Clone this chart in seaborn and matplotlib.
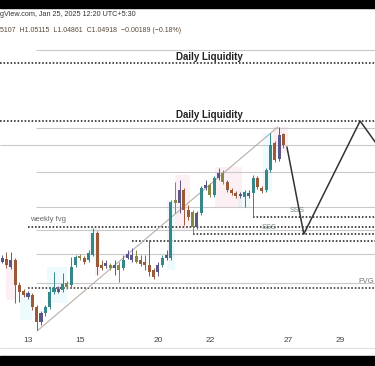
import matplotlib
matplotlib.use("Agg")
import matplotlib.pyplot as plt
import seaborn as sns
import pandas as pd
import numpy as np
from matplotlib.patches import Rectangle

# EURUSD 4H candles, bar 0 = Jan 13 00:00
opens = [1.0256, 1.0262, 1.0246, 1.0260, 1.0210, 1.0198, 1.0186, 1.0190, 1.0166, 1.0136,
         1.0154, 1.0166, 1.0196, 1.0196, 1.0200, 1.0214, 1.0210, 1.0250, 1.0268, 1.0264,
         1.0260, 1.0270, 1.0314, 1.0250, 1.0248, 1.0250, 1.0244, 1.0250, 1.0244, 1.0264,
         1.0260, 1.0268, 1.0260, 1.0256, 1.0250, 1.0240, 1.0236, 1.0250, 1.0264, 1.0264,
         1.0380, 1.0374, 1.0400, 1.0360, 1.0356, 1.0326, 1.0354, 1.0404, 1.0410, 1.0390,
         1.0424, 1.0434, 1.0416, 1.0400, 1.0394, 1.0388, 1.0386, 1.0388, 1.0394, 1.0424,
         1.0404, 1.0400, 1.0440, 1.0494, 1.0462, 1.0512]
highs = [1.0270, 1.0276, 1.0276, 1.0264, 1.0216, 1.0202, 1.0198, 1.0194, 1.0170, 1.0158,
         1.0170, 1.0206, 1.0236, 1.0208, 1.0234, 1.0218, 1.0266, 1.0270, 1.0272, 1.0268,
         1.0280, 1.0324, 1.0318, 1.0260, 1.0260, 1.0254, 1.0260, 1.0256, 1.0270, 1.0280,
         1.0284, 1.0280, 1.0270, 1.0270, 1.0300, 1.0244, 1.0256, 1.0270, 1.0280, 1.0380,
         1.0416, 1.0420, 1.0404, 1.0370, 1.0360, 1.0358, 1.0408, 1.0420, 1.0414, 1.0428,
         1.0444, 1.0440, 1.0420, 1.0404, 1.0398, 1.0396, 1.0400, 1.0400, 1.0430, 1.0428,
         1.0408, 1.0444, 1.0514, 1.0498, 1.0526, 1.0514]
lows = [1.0254, 1.0244, 1.0242, 1.0174, 1.0176, 1.0186, 1.0182, 1.0160, 1.0120, 1.0130,
        1.0148, 1.0162, 1.0192, 1.0194, 1.0196, 1.0202, 1.0206, 1.0246, 1.0260, 1.0252,
        1.0256, 1.0268, 1.0230, 1.0240, 1.0244, 1.0240, 1.0230, 1.0216, 1.0240, 1.0262,
        1.0256, 1.0254, 1.0248, 1.0240, 1.0228, 1.0222, 1.0228, 1.0246, 1.0260, 1.0260,
        1.0354, 1.0354, 1.0330, 1.0340, 1.0314, 1.0322, 1.0350, 1.0400, 1.0386, 1.0386,
        1.0420, 1.0412, 1.0396, 1.0390, 1.0384, 1.0384, 1.0366, 1.0384, 1.0346, 1.0402,
        1.0394, 1.0396, 1.0436, 1.0456, 1.0458, 1.0484]
closes = [1.0264, 1.0250, 1.0260, 1.0210, 1.0196, 1.0190, 1.0194, 1.0166, 1.0136, 1.0154,
          1.0166, 1.0196, 1.0204, 1.0202, 1.0212, 1.0206, 1.0246, 1.0266, 1.0264, 1.0256,
          1.0274, 1.0314, 1.0246, 1.0244, 1.0254, 1.0244, 1.0250, 1.0240, 1.0260, 1.0272,
          1.0270, 1.0256, 1.0252, 1.0250, 1.0236, 1.0226, 1.0250, 1.0264, 1.0270, 1.0376,
          1.0374, 1.0400, 1.0360, 1.0346, 1.0326, 1.0354, 1.0404, 1.0410, 1.0390, 1.0424,
          1.0434, 1.0416, 1.0400, 1.0394, 1.0388, 1.0392, 1.0396, 1.0394, 1.0424, 1.0406,
          1.0398, 1.0440, 1.0490, 1.0460, 1.0510, 1.0490]
kinds = "pdpdddpddp" "uuupuouuod" "uuddpopoup" "poddddpupu" "opddopupou" "podddpupud" "duudpd"
bars = list(range(-6, 60))

# date ticks (bar index -> day label)
tick_bars = [0, 12, 30, 42, 60, 72]
tick_labels = ["13", "15", "20", "22", "27", "29"]

# drawn levels
gray_levels = [1.0680, 1.0524, 1.0436, 1.0366, 1.0320, 1.0272, 1.0214]
gray_full = 1.0490
liq_levels = [1.0654, 1.0538]
sss_levels = [1.0346, 1.0312]
sss_starts = [52, 38]
fvg_weekly = 1.0326
low_dotted = 1.0298
fvg_level = 1.0204

trend_bars = [2.1, 57.7]
trend_prices = [1.0118, 1.0526]
zig_bars = [59.8, 63.7, 76.7, 82.0]
zig_prices = [1.0486, 1.0312, 1.0538, 1.0474]

# faint highlight boxes: bar0, bar1, low, high, colour
boxes = [
    (54.3, 56.4, 1.0396, 1.0514, "#b2ebf2"),
    (56.6, 60.0, 1.0474, 1.0526, "#f8bbd0"),
    (43.2, 49.4, 1.0366, 1.0446, "#f8bbd0"),
    (48.5, 51.3, 1.0366, 1.0400, "#b2ebf2"),
    (32.1, 33.9, 1.0240, 1.0380, "#b2ebf2"),
    (34.0, 37.4, 1.0320, 1.0430, "#f8bbd0"),
    (14.0, 15.5, 1.0260, 1.0324, "#b2ebf2"),
    (15.5, 16.7, 1.0230, 1.0324, "#f8bbd0"),
    (-1.8, 1.0, 1.0140, 1.0200, "#b2ebf2"),
    (-5.0, -2.7, 1.0180, 1.0260, "#f8bbd0"),
    (4.4, 9.0, 1.0174, 1.0246, "#b2ebf2"),
]

palette = {"u": "#35878a", "d": "#9a5a38", "p": "#5a5888", "o": "#878745"}

df = pd.DataFrame({"bar": bars, "open": opens, "high": highs, "low": lows,
                   "close": closes, "kind": list(kinds)})

sns.set_theme(style="white")
plt.rcParams["font.family"] = ["Liberation Sans", "DejaVu Sans"]

fig = plt.figure(figsize=(3.75, 3.66), dpi=100)
ax = fig.add_axes([0, 0, 1, 1])
x0, x1 = -6.47, 80.14
ax.set_xlim(x0, x1)
ax.set_ylim(1.0048, 1.0780)
ax.axis("off")

for b0, b1, lo, hi, c in boxes:
    ax.add_patch(Rectangle((b0, lo), b1 - b0, hi - lo, color=c, alpha=0.22, lw=0, zorder=0))

# horizontal levels
for lv in gray_levels:
    ax.hlines(lv, 1.85, x1, color="#c9c9c9", lw=0.8, zorder=1)
ax.hlines(gray_full, x0, x1, color="#c9c9c9", lw=0.8, zorder=1)
dot = (0, (1, 1.2))
for lv in liq_levels:
    ax.hlines(lv, x0, x1, color="#222222", lw=1.15, linestyles=dot, zorder=2)
for lv, s in zip(sss_levels, sss_starts):
    ax.hlines(lv, s, x1, color="#222222", lw=1.15, linestyles=dot, zorder=2)
ax.hlines(fvg_weekly, 0, x1, color="#222222", lw=1.15, linestyles=dot, zorder=2)
ax.hlines(low_dotted, 24, x1, color="#222222", lw=1.15, linestyles=dot, zorder=2)
ax.hlines(fvg_level, 0, x1, color="#3a2a2a", lw=1.15, linestyles=dot, zorder=2)

ax.text(42, 1.0667, "Daily Liquidity", ha="center", va="center", fontsize=7,
        fontweight="bold", color="#222222")
ax.text(42, 1.0549, "Daily Liquidity", ha="center", va="center", fontsize=7,
        fontweight="bold", color="#222222")
ax.text(0.5, 1.0340, "weekly fvg", ha="left", va="center", fontsize=5.5, color="#666666")
ax.text(60.5, 1.0358, "SSS", ha="left", va="center", fontsize=5.5, color="#7a8a8a")
ax.text(54.0, 1.0324, "SSS", ha="left", va="center", fontsize=5.5, color="#7a8a8a")
ax.text(76.2, 1.0216, "FVG", ha="left", va="center", fontsize=5.5, color="#777777")

# trendline and projection
sns.lineplot(x=trend_bars, y=trend_prices, ax=ax, color="#b8b0a8", lw=0.8, zorder=3)
sns.lineplot(x=zig_bars, y=zig_prices, ax=ax, color="#333333", lw=1.1, zorder=5, sort=False)

# candles
cols = df["kind"].map(palette)
ax.vlines(df["bar"], df["low"], df["high"], colors=cols, lw=0.7, zorder=4)
body_lo = np.minimum(df["open"], df["close"])
body_h = np.maximum((df["open"] - df["close"]).abs(), 0.0003)
ax.bar(df["bar"], body_h, bottom=body_lo, width=0.7, color=cols, lw=0, zorder=4)

# date labels
tr = ax.get_xaxis_transform()
for b, lab in zip(tick_bars, tick_labels):
    ax.text(b, 1 - 340 / 366, lab, transform=tr, ha="center", va="center",
            fontsize=6, color="#444444")

# frame: black bars top and bottom, separators
fig.patches.append(Rectangle((0, 1 - 8 / 366), 1, 8 / 366, transform=fig.transFigure,
                             color="black", zorder=10))
fig.patches.append(Rectangle((0, 0), 1, 10 / 366, transform=fig.transFigure,
                             color="black", zorder=10))
fig.lines.append(plt.Line2D([0, 1], [1 - 348 / 366] * 2, transform=fig.transFigure,
                            color="#e0e0e0", lw=0.8))

fig.text(0.0, 1 - 14 / 366, "gView.com, Jan 25, 2025 12:20 UTC+5:30", ha="left",
         va="center", fontsize=5.2, color="#333333")
fig.text(0.0, 1 - 30 / 366, "5107  H1.05115  L1.04861  C1.04918  \u22120.00189 (\u22120.18%)",
         ha="left", va="center", fontsize=5.0, color="#5a4a3a")

fig.savefig("out.png", dpi=100)
